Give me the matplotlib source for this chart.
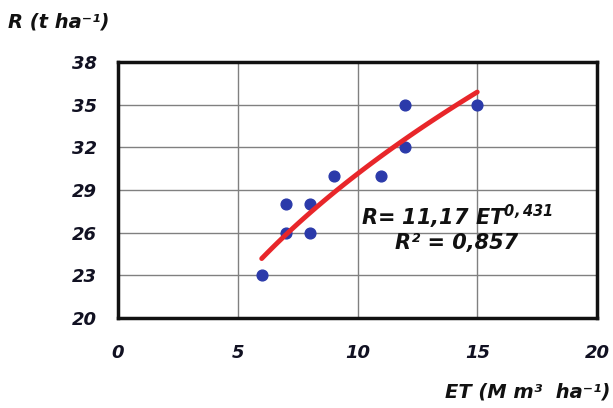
import numpy as np
import matplotlib
matplotlib.use("Agg")
import matplotlib.pyplot as plt

et = [6, 7, 7, 8, 8, 9, 11, 12, 12, 15]
r = [23, 26, 28, 26, 28, 30, 30, 32, 35, 35]
coef_a = 11.17
coef_b = 0.431
xticks = [0, 5, 10, 15, 20]
yticks = [20, 23, 26, 29, 32, 35, 38]

plt.rcParams['font.family'] = ['DejaVu Sans']
plt.rcParams['mathtext.fontset'] = 'custom'
plt.rcParams['mathtext.rm'] = 'DejaVu Sans:bold:italic'
plt.rcParams['mathtext.it'] = 'DejaVu Sans:bold:italic'
plt.rcParams['mathtext.bf'] = 'DejaVu Sans:bold:italic'

fig = plt.figure(figsize=(6.13, 4.08), dpi=100)
ax = fig.add_axes([118/613, 1-318/408, (597-118)/613, (318-62)/408])

ax.set_xlim(0, 20)
ax.set_ylim(20, 38)
ax.set_xticks(xticks)
ax.set_yticks(yticks)
ax.grid(True, color='#808080', linewidth=1.0)
ax.set_axisbelow(True)
for s in ax.spines.values():
    s.set_linewidth(2.5)
    s.set_color('#111111')
ax.tick_params(length=0, labelsize=13)
ax.tick_params(axis='x', pad=19)
ax.tick_params(axis='y', pad=15)
for lab in ax.get_xticklabels() + ax.get_yticklabels():
    lab.set_fontweight('bold')
    lab.set_fontstyle('italic')
    lab.set_color('#111122')

ax.scatter(et, r, s=60, color='#2b3aaa', zorder=3)
xs = np.linspace(min(et), max(et), 100)
ax.plot(xs, coef_a * xs ** coef_b, color='#e8262a', linewidth=3.5, zorder=4,
        solid_capstyle='round')

tkw = dict(fontweight='bold', fontstyle='italic', color='#111111')
ax.text(14.15, 27.1, r'R= 11,17 ET$^{0,431}$', ha='center', va='center', fontsize=15, **tkw)
ax.text(14.15, 25.25, 'R² = 0,857', ha='center', va='center', fontsize=15, **tkw)

fig.text(8/613, 1-22/408, 'R (t ha⁻¹)', ha='left', va='center', fontsize=14, **tkw)
fig.text(610/613, 1-392/408, 'ET (M m³  ha⁻¹)', ha='right', va='center', fontsize=14, **tkw)

fig.savefig('out.png', dpi=100)
